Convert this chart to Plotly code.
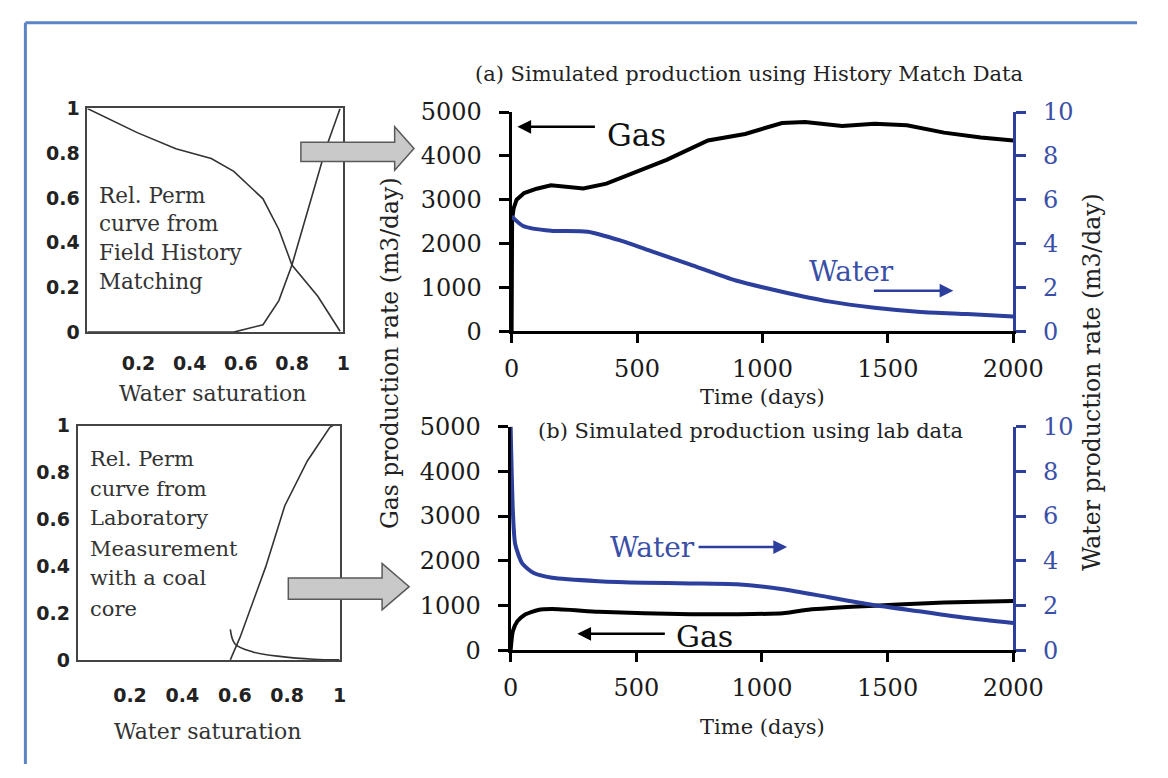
import plotly.graph_objects as go

W, H = 1168, 778

# ---------------- data ----------------
# Rel. perm from field history matching (top-left)
hm_sw_gas = [0.0, 0.195, 0.346, 0.484, 0.572, 0.686, 0.748, 0.799, 0.90, 0.987]
hm_kr_gas = [1.0, 0.892, 0.820, 0.776, 0.719, 0.596, 0.459, 0.300, 0.160, 0.004]
hm_sw_wat = [0.0, 0.572, 0.686, 0.748, 0.799, 0.874, 0.931, 0.987]
hm_kr_wat = [0.0, 0.0, 0.033, 0.141, 0.300, 0.589, 0.820, 1.0]

# Rel. perm from laboratory measurement (bottom-left)
lab_sw_wat = [0.583, 0.620, 0.718, 0.791, 0.877, 0.963, 0.975]
lab_kr_wat = [0.0, 0.096, 0.397, 0.658, 0.849, 0.993, 1.0]
lab_sw_gas = [0.583, 0.601, 0.669, 0.779, 0.902, 1.0]
lab_kr_gas = [0.130, 0.068, 0.034, 0.014, 0.003, 0.0]

# (a) History match data
a_t_gas = [0, 2, 8, 20, 50, 100, 157, 220, 286, 378, 488, 618, 783, 931, 1078,
           1170, 1318, 1447, 1576, 1724, 1871, 2000]
a_gas = [0, 2550, 2800, 3000, 3150, 3250, 3330, 3300, 3255, 3365, 3620, 3910,
         4350, 4500, 4750, 4770, 4680, 4730, 4700, 4530, 4420, 4350]
a_t_wat = [0, 46, 157, 304, 433, 562, 710, 894, 1078, 1263, 1447, 1631, 1816, 2000]
a_wat = [5.24, 4.8, 4.58, 4.54, 4.14, 3.63, 3.05, 2.31, 1.80, 1.36, 1.07, 0.88, 0.78, 0.67]

# (b) Lab data
b_t_gas = [0, 9, 27, 55, 110, 165, 349, 532, 716, 899, 1083, 1174, 1358, 1541, 1725, 2000]
b_gas = [0, 430, 650, 790, 900, 920, 863, 827, 806, 806, 827, 900, 971, 1022, 1065, 1100]
b_t_wat = [0, 9, 18, 46, 92, 165, 349, 532, 716, 899, 1083, 1266, 1450, 1633, 1817, 2000]
b_wat = [10, 6.19, 4.75, 3.88, 3.45, 3.24, 3.09, 3.02, 2.99, 2.95, 2.73, 2.37, 2.01, 1.73, 1.44, 1.22]

sat_ticks = [0.2, 0.4, 0.6, 0.8, 1]
sat_ticktext = ["0.2", "0.4", "0.6", "0.8", "1"]
kr_ticks = [0, 0.2, 0.4, 0.6, 0.8, 1]
kr_ticktext = ["0", "0.2", "0.4", "0.6", "0.8", "1"]
time_ticks = [0, 500, 1000, 1500, 2000]
gas_ticks = [0, 1000, 2000, 3000, 4000, 5000]
wat_ticks = [0, 2, 4, 6, 8, 10]

# ---------------- helpers ----------------
def px(x):
    return x / W

def py(y):
    return 1 - y / H

BLUE = "#2c3f9c"
BLUE_TXT = "#3a4fa6"
SERIF = "DejaVu Serif"
SANS = "DejaVu Sans"
KR = "#333333"

fig = go.Figure()

# rel perm traces
fig.add_trace(go.Scatter(x=hm_sw_gas, y=hm_kr_gas, mode="lines", line=dict(color=KR, width=1.6),
                         xaxis="x", yaxis="y", showlegend=False, cliponaxis=False))
fig.add_trace(go.Scatter(x=hm_sw_wat, y=hm_kr_wat, mode="lines", line=dict(color=KR, width=1.6),
                         xaxis="x", yaxis="y", showlegend=False, cliponaxis=False))
fig.add_trace(go.Scatter(x=lab_sw_wat, y=lab_kr_wat, mode="lines", line=dict(color=KR, width=1.6),
                         xaxis="x2", yaxis="y2", showlegend=False, cliponaxis=False))
fig.add_trace(go.Scatter(x=lab_sw_gas, y=lab_kr_gas, mode="lines", line=dict(color=KR, width=1.6, shape="spline"),
                         xaxis="x2", yaxis="y2", showlegend=False, cliponaxis=False))

# production (a)
fig.add_trace(go.Scatter(x=a_t_gas, y=a_gas, mode="lines", line=dict(color="black", width=4),
                         xaxis="x3", yaxis="y3", showlegend=False))
fig.add_trace(go.Scatter(x=a_t_wat, y=a_wat, mode="lines", line=dict(color=BLUE, width=4, shape="spline", smoothing=0.6),
                         xaxis="x3", yaxis="y4", showlegend=False))
# production (b)
fig.add_trace(go.Scatter(x=b_t_gas, y=b_gas, mode="lines", line=dict(color="black", width=4, shape="spline", smoothing=0.6),
                         xaxis="x4", yaxis="y5", showlegend=False))
fig.add_trace(go.Scatter(x=b_t_wat, y=b_wat, mode="lines", line=dict(color=BLUE, width=4, shape="spline", smoothing=0.6),
                         xaxis="x4", yaxis="y6", showlegend=False))


def kr_x(standoff):
    return dict(range=[0, 1], tickvals=sat_ticks, ticktext=sat_ticktext, showline=True, mirror=True,
                linecolor="#444", linewidth=1.6, showgrid=False, zeroline=False, ticks="",
                tickfont=dict(family=SANS, size=19, color="#222", weight="bold"), ticklabelstandoff=standoff)


kr_y_common = dict(range=[0, 1], tickvals=kr_ticks, ticktext=kr_ticktext, showline=True, mirror=True,
                   linecolor="#444", linewidth=1.6, showgrid=False, zeroline=False, ticks="",
                   tickfont=dict(family=SANS, size=19, color="#222", weight="bold"), ticklabelstandoff=2)

prod_x = dict(range=[0, 2000], tickvals=time_ticks, showline=True, linecolor="black", linewidth=3,
              ticks="outside", ticklen=9, tickwidth=3, tickcolor="black", showgrid=False, zeroline=False,
              tickfont=dict(family=SERIF, size=24, color="#1a1a1a"), ticklabelstandoff=5)
prod_yl = dict(range=[0, 5000], tickvals=gas_ticks, showline=True, linecolor="black", linewidth=3,
               ticks="outside", ticklen=10, tickwidth=3, tickcolor="black", showgrid=False, zeroline=False,
               tickfont=dict(family=SERIF, size=24, color="#1a1a1a"), ticklabelstandoff=12)
prod_yr = dict(range=[0, 10], tickvals=wat_ticks, showline=True, linecolor=BLUE, linewidth=3,
               ticks="outside", ticklen=10, tickwidth=3, tickcolor=BLUE, showgrid=False, zeroline=False,
               side="right", tickfont=dict(family=SERIF, size=24, color=BLUE_TXT), ticklabelstandoff=12)

fig.update_layout(
    width=W, height=H,
    margin=dict(l=0, r=0, t=0, b=0),
    paper_bgcolor="white", plot_bgcolor="rgba(0,0,0,0)",
    showlegend=False,
    xaxis=dict(domain=[px(82), px(347)], anchor="y", **kr_x(13)),
    yaxis=dict(domain=[py(330), py(98)], anchor="x", **kr_y_common),
    xaxis2=dict(domain=[px(72), px(343)], anchor="y2", **kr_x(18)),
    yaxis2=dict(domain=[py(670), py(427)], anchor="x2", **kr_y_common),
    xaxis3=dict(domain=[px(521), px(1040)], anchor="y3", **prod_x),
    yaxis3=dict(domain=[py(329), py(101.7)], anchor="x3", **prod_yl),
    yaxis4=dict(overlaying="y3", anchor="x3", **prod_yr),
    xaxis4=dict(domain=[px(520), px(1040)], anchor="y5", **prod_x),
    yaxis5=dict(domain=[py(660), py(428)], anchor="x4", **prod_yl),
    yaxis6=dict(overlaying="y5", anchor="x4", **prod_yr),
)

ann = []

def text(x, y, s, size, color="#222", family=SERIF, xanchor="center", angle=0):
    ann.append(dict(x=px(x), y=py(y), xref="paper", yref="paper", text=s, showarrow=False,
                    font=dict(family=family, size=size, color=color), xanchor=xanchor, yanchor="middle",
                    textangle=angle))

def arrow(x_tip, y_tip, x_tail, y_tail, color):
    ann.append(dict(x=px(x_tip), y=py(y_tip), xref="paper", yref="paper", text="",
                    showarrow=True, ax=x_tail - x_tip, ay=y_tail - y_tip, axref="pixel", ayref="pixel",
                    arrowhead=2, arrowsize=1.1, arrowwidth=2.5, arrowcolor=color))

# titles
text(767, 62, "(a) Simulated production using History Match Data", 21, "#222")
text(768, 433, "(b) Simulated production using lab data", 21, "#222")
text(781, 397, "Time (days)", 21, "#222")
text(781, 740, "Time (days)", 21, "#222")
text(396, 352, "Gas production rate (m3/day)", 23.5, "#222", angle=-90)
text(1122, 382, "Water production rate (m3/day)", 23.5, "#222", angle=-90)
text(212, 394, "Water saturation", 22, "#333")
text(207, 744, "Water saturation", 22, "#333")

# relperm notes
for i, s in enumerate(["Rel. Perm", "curve from", "Field History", "Matching"]):
    text(92, [188, 217, 247, 278][i], s, 21.5, KR, xanchor="left")
for i, s in enumerate(["Rel. Perm", "curve from", "Laboratory", "Measurement", "with a coal", "core"]):
    text(83, [462, 493, 523, 555, 585, 617][i], s, 21, KR, xanchor="left")

# series labels with arrows
text(650, 126, "Gas", 31, "#111")
arrow(527, 117, 606, 117, "black")
text(873, 267, "Water", 28, BLUE_TXT)
arrow(978, 287, 897, 287, BLUE)
text(667, 553, "Water", 28, BLUE_TXT)
arrow(806, 553, 716, 553, BLUE)
text(721, 646, "Gas", 30, "#111")
arrow(589, 643, 678, 643, "black")

fig.update_layout(annotations=ann)

# gray block arrows
def block_arrow(x0, xb, xt, yb0, yb1, yh0, yh1):
    ym = (yh0 + yh1) / 2
    pts = [(x0, yb0), (xb, yb0), (xb, yh0), (xt, ym), (xb, yh1), (xb, yb1), (x0, yb1)]
    path = "M " + " L ".join(f"{px(a):.5f},{py(b):.5f}" for a, b in pts) + " Z"
    return dict(type="path", xref="paper", yref="paper", path=path, fillcolor="#c9c9c9",
                line=dict(color="#5a5a5a", width=1.5), layer="above")

shapes = [
    block_arrow(303, 400, 420, 133, 153, 117, 162),
    block_arrow(290, 387, 415, 585, 607, 570, 618),
    # frame border
    dict(type="line", xref="paper", yref="paper", x0=px(18), x1=px(18), y0=py(9), y1=0,
         line=dict(color="#5b84c4", width=3)),
    dict(type="line", xref="paper", yref="paper", x0=px(18), x1=1, y0=py(9), y1=py(9),
         line=dict(color="#5b84c4", width=3)),
]
fig.update_layout(shapes=shapes)

fig.write_html("out.html", config={"displayModeBar": False},
               post_script="document.body.style.margin='0px';")
